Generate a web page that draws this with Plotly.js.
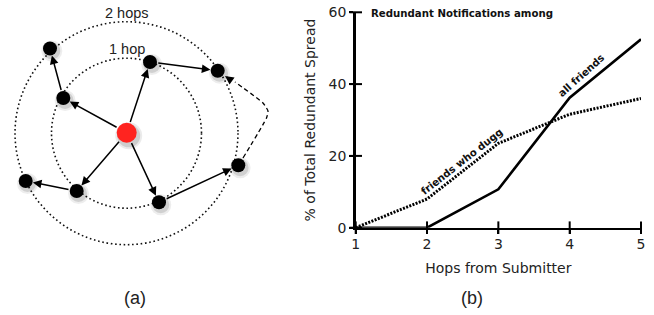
<!DOCTYPE html>
<html>
<head>
<meta charset="utf-8">
<script src="https://cdn.plot.ly/plotly-3.0.1.min.js"></script>
<style>html,body{margin:0;padding:0;background:#fff;}#chart{width:654px;height:315px;}</style>
</head>
<body>
<div id="chart"></div>
<script>
// ---------- Panel (b) data ----------
const hops = [1, 2, 3, 4, 5];
const allFriends = [0, 0, 10.7, 36.2, 52.5];
const friendsWhoDugg = [0, 8.0, 23.5, 31.6, 36.0];
const xTickVals = [1, 2, 3, 4, 5];
const yTickVals = [0, 20, 40, 60];

// ---------- Panel (a) diagram data (pixel-like units) ----------
const submitterX = [126.7];
const submitterY = [132.8];
const nodeNames = ["outerTL", "innerL", "innerT", "outerTR", "outerR", "innerB", "innerBL", "outerL"];
const nodeX = [50.0, 63.3, 150.0, 217.7, 238.3, 159.0, 76.7, 25.7];
const nodeY = [48.5, 98.0, 62.0, 70.7, 165.3, 202.3, 191.0, 181.0];
// edges: from index (-1 = submitter) to node index
const edgeFrom = [-1, -1, -1, -1, 1, 2, 6, 5];
const edgeTo   = [ 1,  2,  6,  5, 0, 3, 7, 4];
// dashed redundant path from outerR back to outerTR
const dashPathX = [243, 266.5, 268, 263, 235];
const dashPathY = [158, 118, 111, 103, 82];
const ringCenter = [126.5, 133.2];
const ringRadii = [75, 111.5];
const ringLabels = ["1 hop", "2 hops"];

const traces = [];
// panel (b) lines
traces.push({
  x: hops, y: friendsWhoDugg, type: 'scatter', mode: 'lines',
  line: {color: '#000', width: 3, dash: '2px,1.4px'},
  xaxis: 'x', yaxis: 'y', hoverinfo: 'skip', showlegend: false, cliponaxis: false
});
traces.push({
  x: hops, y: allFriends, type: 'scatter', mode: 'lines',
  line: {color: '#000', width: 2.6},
  xaxis: 'x', yaxis: 'y', hoverinfo: 'skip', showlegend: false, cliponaxis: false
});
// crossing tick marks (centred on the axis lines)
traces.push({
  x: xTickVals, y: xTickVals.map(() => 0), type: 'scatter', mode: 'markers',
  marker: {symbol: 'line-ns-open', size: 9, color: '#000', line: {color: '#000', width: 2}},
  xaxis: 'x', yaxis: 'y', hoverinfo: 'skip', showlegend: false, cliponaxis: false
});
traces.push({
  x: yTickVals.map(() => 1), y: yTickVals, type: 'scatter', mode: 'markers',
  marker: {symbol: 'line-ew-open', size: 9, color: '#000', line: {color: '#000', width: 2}},
  xaxis: 'x', yaxis: 'y', hoverinfo: 'skip', showlegend: false, cliponaxis: false
});

// panel (a) shadows
const shX = nodeX.map(v => v + 1.8), shY = nodeY.map(v => v + 2.5);
traces.push({x: shX, y: shY, type: 'scatter', mode: 'markers', xaxis: 'x2', yaxis: 'y2',
  marker: {size: 21, color: 'rgba(0,0,0,0.07)'}, hoverinfo: 'skip', showlegend: false});
traces.push({x: shX, y: shY, type: 'scatter', mode: 'markers', xaxis: 'x2', yaxis: 'y2',
  marker: {size: 17, color: 'rgba(0,0,0,0.12)'}, hoverinfo: 'skip', showlegend: false});
traces.push({x: submitterX.map(v => v + 2), y: submitterY.map(v => v + 3), type: 'scatter', mode: 'markers', xaxis: 'x2', yaxis: 'y2',
  marker: {size: 27, color: 'rgba(0,0,0,0.08)'}, hoverinfo: 'skip', showlegend: false});
traces.push({x: submitterX.map(v => v + 2), y: submitterY.map(v => v + 3), type: 'scatter', mode: 'markers', xaxis: 'x2', yaxis: 'y2',
  marker: {size: 23, color: 'rgba(0,0,0,0.12)'}, hoverinfo: 'skip', showlegend: false});
// dashed path
traces.push({x: dashPathX, y: dashPathY, type: 'scatter', mode: 'lines', xaxis: 'x2', yaxis: 'y2',
  line: {color: '#000', width: 1.3, dash: '4.5px,3px', shape: 'spline', smoothing: 0.5}, hoverinfo: 'skip', showlegend: false});

const shapes = ringRadii.map(r => ({
  type: 'circle', xref: 'x2', yref: 'y2', layer: 'below',
  x0: ringCenter[0] - r, x1: ringCenter[0] + r, y0: ringCenter[1] - r, y1: ringCenter[1] + r,
  line: {color: '#111', width: 1.6, dash: '1.6px,2.7px'}
}));

const annotations = [];
const nodeR = 6.8, subR = 9.8;
for (let i = 0; i < edgeFrom.length; i++) {
  const f = edgeFrom[i], t = edgeTo[i];
  const fx = f < 0 ? submitterX[0] : nodeX[f];
  const fy = f < 0 ? submitterY[0] : nodeY[f];
  annotations.push({
    xref: 'x2', yref: 'y2', axref: 'x2', ayref: 'y2',
    x: nodeX[t], y: nodeY[t], ax: fx, ay: fy, text: '',
    showarrow: true, arrowhead: 2, arrowsize: 1.15, arrowwidth: 1.5, arrowcolor: '#000',
    standoff: nodeR + 0.5, startstandoff: (f < 0 ? subR : nodeR)
  });
}
// arrow head of the dashed path
{
  const sx = dashPathX[3], sy = dashPathY[3];
  const tx = nodeX[3], ty = nodeY[3];
  const len = Math.hypot(tx - sx, ty - sy);
  annotations.push({
    xref: 'x2', yref: 'y2', axref: 'x2', ayref: 'y2',
    x: tx, y: ty, ax: sx, ay: sy, text: '',
    showarrow: true, arrowhead: 2, arrowsize: 1.15, arrowwidth: 1.5, arrowcolor: '#000',
    standoff: 9, startstandoff: len - 19
  });
}
const capFont = {family: 'Liberation Sans, Arial, sans-serif', size: 14.5, color: '#222'};
// ring labels
annotations.push({xref: 'x2', yref: 'y2', x: ringCenter[0], y: ringCenter[1] - ringRadii[1] - 8.5, text: ringLabels[1], showarrow: false, font: capFont});
annotations.push({xref: 'x2', yref: 'y2', x: ringCenter[0], y: ringCenter[1] - ringRadii[0] - 9.5, text: ringLabels[0], showarrow: false, font: capFont});
// panel captions
annotations.push({xref: 'x2', yref: 'y2', x: 134.5, y: 298, yanchor: 'middle', text: '(a)', showarrow: false,
  font: {family: 'Liberation Sans, Arial, sans-serif', size: 18, color: '#222'}});
annotations.push({xref: 'paper', yref: 'paper', x: 471.5 / 654, y: 1 - 298 / 315, xanchor: 'center', yanchor: 'middle', text: '(b)', showarrow: false,
  font: {family: 'Liberation Sans, Arial, sans-serif', size: 18, color: '#222'}});
// panel (b) title and line labels
const lblFont = {family: 'DejaVu Sans, sans-serif', size: 10.2, color: '#111'};
annotations.push({xref: 'paper', yref: 'paper', x: 369 / 654, y: 1 - 14 / 315, xanchor: 'left', yanchor: 'middle',
  text: '<b>Redundant Notifications among</b>', showarrow: false, font: lblFont});
annotations.push({xref: 'x', yref: 'y', x: 2.49, y: 18.3, text: '<b>friends who dugg</b>', textangle: -38, showarrow: false, font: lblFont});
annotations.push({xref: 'x', yref: 'y', x: 4.16, y: 42.5, text: '<b>all friends</b>', textangle: -42, showarrow: false, font: lblFont});

const tickFont = {family: 'DejaVu Sans, sans-serif', size: 14, color: '#222'};
const xDom = [355.7 / 654, 641 / 654];
const yDom = [1 - 227.7 / 315, 1 - 12.3 / 315];

const layout = {
  width: 654, height: 315,
  margin: {l: 0, r: 0, t: 0, b: 0, pad: 0},
  paper_bgcolor: '#fff', plot_bgcolor: 'rgba(0,0,0,0)',
  showlegend: false,
  xaxis: {
    domain: xDom, range: [1, 5], anchor: 'y',
    tickmode: 'array', tickvals: xTickVals, ticks: 'outside', ticklen: 4, tickwidth: 2, tickcolor: '#000',
    showline: true, linewidth: 2.6, linecolor: '#000', showgrid: false, zeroline: false,
    tickfont: tickFont, ticklabelstandoff: -2,
    title: {text: 'Hops from Submitter', font: {family: 'DejaVu Sans, sans-serif', size: 14, color: '#222'}, standoff: 12}
  },
  yaxis: {
    domain: yDom, range: [0, 60], anchor: 'x',
    tickmode: 'array', tickvals: yTickVals, ticks: 'outside', ticklen: 4, tickwidth: 2, tickcolor: '#000',
    showline: true, linewidth: 2.6, linecolor: '#000', showgrid: false, zeroline: false,
    tickfont: tickFont,
    title: {text: '% of Total Redundant Spread', font: {family: 'DejaVu Sans, sans-serif', size: 14, color: '#222'}, standoff: 10}
  },
  xaxis2: {domain: [0, 330 / 654], range: [0, 330], anchor: 'y2', visible: false, fixedrange: true},
  yaxis2: {domain: [0, 1], range: [315, 0], anchor: 'x2', visible: false, fixedrange: true},
  shapes: shapes,
  annotations: annotations
};

// nodes last so they sit on top of arrows
traces.push({x: nodeX, y: nodeY, text: nodeNames, type: 'scatter', mode: 'markers', xaxis: 'x2', yaxis: 'y2',
  marker: {size: 14, color: '#000'}, hoverinfo: 'skip', showlegend: false});
traces.push({x: submitterX, y: submitterY, type: 'scatter', mode: 'markers', xaxis: 'x2', yaxis: 'y2',
  marker: {size: 20, color: '#ff2420'}, hoverinfo: 'skip', showlegend: false});

Plotly.newPlot('chart', traces, layout, {displayModeBar: false, staticPlot: true});
</script>
</body>
</html>
